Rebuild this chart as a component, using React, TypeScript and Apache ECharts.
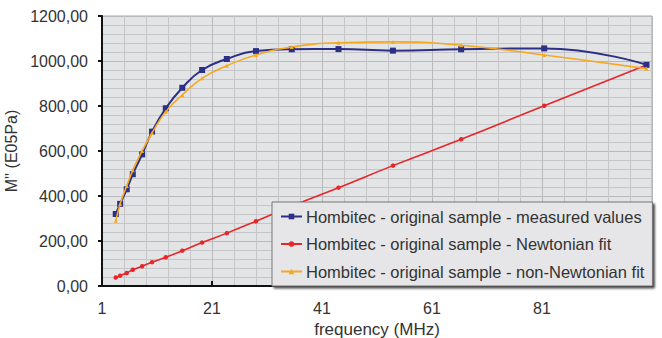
import React, { useEffect, useRef } from "react";
import * as echarts from "echarts";

const freqMeasured = [3.5, 4.3, 5.5, 6.6, 8.3, 10.1, 12.6, 15.6, 19.2, 23.7, 29, 35.5, 44, 53.9, 66.3, 81.4, 100];
const measured = [320, 365, 430, 497, 585, 686, 790, 881, 960, 1009, 1044, 1052, 1053, 1046, 1052, 1056, 983];

const freqNewton = [3.5, 4.3, 5.5, 6.6, 8.3, 10.1, 12.6, 15.6, 19.2, 23.7, 29, 35.5, 44, 53.9, 66.3, 81.4, 100];
const newton = [38, 46, 58, 72, 88, 106, 128, 157, 193, 235, 288, 355, 437, 535, 652, 801, 982];

const freqNonNewton = [3.5, 4.3, 5.5, 6.6, 8.3, 10.1, 12.6, 15.6, 19.2, 23.7, 29, 35.5, 44, 53.9, 66.3, 81.4, 100];
const nonNewton = [290, 365, 445, 515, 600, 680, 775, 849, 923, 979, 1027, 1062, 1081, 1085, 1070, 1027, 966];

const seriesNames = [
  "Hombitec - original sample - measured values",
  "Hombitec - original sample - Newtonian fit",
  "Hombitec - original sample - non-Newtonian fit",
];

const zip = (xs: number[], ys: number[]) => xs.map((x, i) => [x, ys[i]]);

export default function App() {
  const ref = useRef<HTMLDivElement>(null);
  useEffect(() => {
    if (!ref.current) return;
    const chart = echarts.init(ref.current, null, { renderer: "svg" });
    const font = "Liberation Sans, Arial, sans-serif";
    chart.setOption({
      animation: false,
      backgroundColor: "#ffffff",
      textStyle: { fontFamily: font },
      grid: {
        left: 102,
        top: 16,
        right: 10,
        bottom: 52,
        outerBoundsMode: "none",
        containLabel: false,
        show: true,
        backgroundColor: "#e3e4e6",
        borderColor: "#a9a9a9",
        borderWidth: 1,
      },
      xAxis: {
        type: "value",
        min: 1,
        max: 101,
        interval: 20,
        name: "frequency (MHz)",
        nameLocation: "middle",
        nameGap: 29,
        nameTextStyle: { fontSize: 17, color: "#333", fontFamily: font },
        axisLine: { show: true, onZero: false, lineStyle: { color: "#111", width: 2 } },
        axisTick: { show: true, inside: true, length: 5, lineStyle: { color: "#111", width: 2 } },
        axisLabel: { showMaxLabel: false, fontSize: 16, color: "#333", margin: 14, fontFamily: font },
        splitLine: { show: true, lineStyle: { color: "#b9b9bb", width: 1 } },
        minorTick: { show: false, splitNumber: 5 },
        minorSplitLine: { show: true, lineStyle: { color: "#c6c6c8", width: 1 } },
      },
      yAxis: {
        type: "value",
        min: 0,
        max: 1200,
        interval: 200,
        name: "M'' (E05Pa)",
        nameLocation: "middle",
        nameGap: 66,
        nameTextStyle: { fontSize: 16, color: "#333", fontFamily: font },
        axisLine: { show: true, lineStyle: { color: "#111", width: 2 } },
        axisTick: { show: true, length: 4, lineStyle: { color: "#111", width: 2 } },
        axisLabel: {
          fontSize: 16,
          color: "#333",
          margin: 14,
          fontFamily: font,
          formatter: (v: number) => v.toFixed(2).replace(".", ","),
        },
        splitLine: { show: true, lineStyle: { color: "#b9b9bb", width: 1 } },
        minorTick: { show: false, splitNumber: 5 },
        minorSplitLine: { show: true, lineStyle: { color: "#c6c6c8", width: 1 } },
      },
      legend: {
        orient: "vertical",
        left: 272,
        top: 202,
        padding: [6, 8, 6, 8],
        itemGap: 10.5,
        itemWidth: 21,
        itemHeight: 7,
        backgroundColor: "#e6e6e8",
        borderColor: "#777",
        borderWidth: 1,
        shadowColor: "rgba(0,0,0,0.7)",
        shadowOffsetX: 2,
        shadowOffsetY: 2,
        shadowBlur: 2,
        textStyle: { fontSize: 16.5, color: "#333", fontFamily: font, padding: [0, 0, 0, -1] },
        data: seriesNames,
      },
      series: [
        {
          name: seriesNames[0],
          type: "line",
          smooth: true,
          data: zip(freqMeasured, measured),
          symbol: "rect",
          symbolSize: 6,
          itemStyle: { color: "#2b2f86" },
          lineStyle: { color: "#2b2f86", width: 2 },
          z: 3,
        },
        {
          name: seriesNames[1],
          type: "line",
          smooth: true,
          data: zip(freqNewton, newton),
          symbol: "circle",
          symbolSize: 4.5,
          itemStyle: { color: "#e8262a" },
          lineStyle: { color: "#e8262a", width: 1.6 },
          z: 2,
        },
        {
          name: seriesNames[2],
          type: "line",
          smooth: true,
          data: zip(freqNonNewton, nonNewton),
          symbol: "triangle",
          symbolSize: 4,
          itemStyle: { color: "#f6a81e" },
          lineStyle: { color: "#f6a81e", width: 1.6 },
          z: 4,
        },
      ],
    });
    return () => chart.dispose();
  }, []);
  return <div ref={ref} style={{ position: "fixed", left: 0, top: 0, width: 662, height: 338 }} />;
}
